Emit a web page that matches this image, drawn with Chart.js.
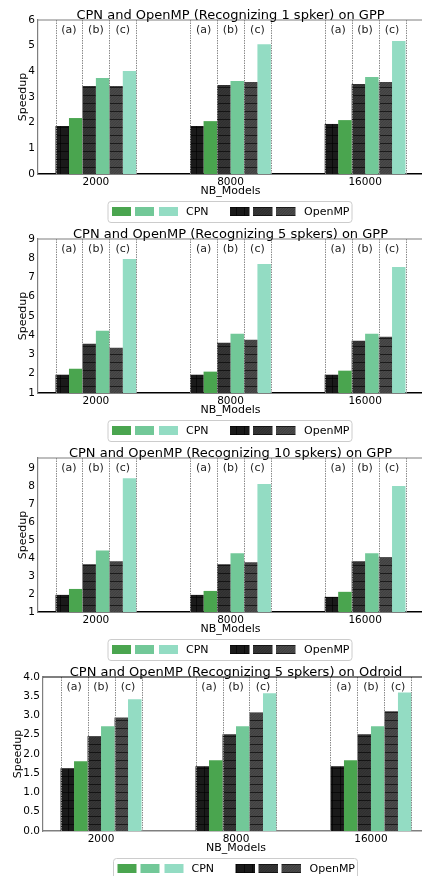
<!DOCTYPE html>
<html>
<head>
<meta charset="utf-8">
<script src="https://cdn.jsdelivr.net/npm/chart.js@4.4.0/dist/chart.umd.min.js"></script>
<style>
  html, body { margin: 0; padding: 0; background: #fff; overflow: hidden; width: 422px; height: 876px; }
  body { position: relative; }
  canvas.panel { position: absolute; left: 0; }
</style>
</head>
<body>
<canvas id="p1" class="panel" width="430" height="225" style="top:0px"></canvas>
<canvas id="p2" class="panel" width="430" height="225" style="top:219px"></canvas>
<canvas id="p3" class="panel" width="430" height="225" style="top:438px"></canvas>
<canvas id="p4" class="panel" width="430" height="225" style="top:657px"></canvas>
<script>
var nbModels = ["2000", "8000", "16000"];
var variants = ["(a)", "(b)", "(c)"];

// rows: (a), (b), (c) ; columns: 2000, 8000, 16000
var gpp1Cpn = [
  [2.18, 2.06, 2.10],
  [3.74, 3.62, 3.78],
  [4.01, 5.06, 5.18],
];
var gpp1OpenMP = [
  [1.87, 1.87, 1.95],
  [3.43, 3.47, 3.51],
  [3.43, 3.58, 3.58],
];

var gpp5Cpn = [
  [2.26, 2.11, 2.16],
  [4.23, 4.08, 4.08],
  [7.96, 7.70, 7.55],
];
var gpp5OpenMP = [
  [1.95, 1.95, 1.95],
  [3.56, 3.61, 3.71],
  [3.35, 3.76, 3.92],
];

var gpp10Cpn = [
  [2.28, 2.17, 2.12],
  [4.42, 4.26, 4.26],
  [8.43, 8.10, 7.99],
];
var gpp10OpenMP = [
  [1.95, 1.95, 1.84],
  [3.65, 3.65, 3.82],
  [3.82, 3.76, 4.04],
];

var odroid5Cpn = [
  [1.81, 1.84, 1.84],
  [2.72, 2.72, 2.72],
  [3.42, 3.58, 3.60],
];
var odroid5OpenMP = [
  [1.63, 1.68, 1.68],
  [2.46, 2.51, 2.51],
  [2.95, 3.08, 3.11],
];

var cpnColors = ["#4aa54f", "#72c898", "#93dcc3"];
var ompBase = ["#1a1a1a", "#363636", "#4a4a4a"];

function makeHatch(base, k) {
  var t = document.createElement("canvas");
  t.width = 8;
  t.height = 8;
  var c = t.getContext("2d");
  c.fillStyle = base;
  c.fillRect(0, 0, 8, 8);
  if (k > 0) {
    // fine diagonal texture
    c.strokeStyle = "rgba(0,0,0,0.22)";
    c.lineWidth = 0.7;
    for (var d = -8; d <= 8; d += 2.67) {
      c.beginPath();
      c.moveTo(d, 8);
      c.lineTo(d + 8, 0);
      c.stroke();
    }
  }
  c.fillStyle = "rgba(0,0,0,0.6)";
  c.fillRect(0, 7, 8, 1);
  if (k === 0) c.fillRect(4, 0, 1, 8);
  return document.createElement("canvas").getContext("2d").createPattern(t, "repeat");
}
var ompFills = ompBase.map(makeHatch);

var panels = [
  { id: "p1", title: "CPN and OpenMP (Recognizing 1 spker) on GPP", cpn: gpp1Cpn, omp: gpp1OpenMP,
    ymin: 0, ymax: 6, step: 1, yw: 38, padRight: 7, ytitlePad: 16.4, topSpine: "#7f7f7f", bottomSpine: "#000", dec: 0 },
  { id: "p2", title: "CPN and OpenMP (Recognizing 5 spkers) on GPP", cpn: gpp5Cpn, omp: gpp5OpenMP,
    ymin: 1, ymax: 9, step: 1, yw: 38, padRight: 7, ytitlePad: 16.4, topSpine: "#7f7f7f", bottomSpine: "#000", dec: 0 },
  { id: "p3", title: "CPN and OpenMP (Recognizing 10 spkers) on GPP", cpn: gpp10Cpn, omp: gpp10OpenMP,
    ymin: 1, ymax: 9.55, step: 1, yw: 38, padRight: 7, ytitlePad: 16.4, topSpine: "#7f7f7f", bottomSpine: "#000", dec: 0 },
  { id: "p4", title: "CPN and OpenMP (Recognizing 5 spkers) on Odroid", cpn: odroid5Cpn, omp: odroid5OpenMP,
    ymin: 0, ymax: 4, step: 0.5, yw: 43, padRight: 1, ytitlePad: 11.7, topSpine: "#000", bottomSpine: "#7f7f7f", dec: 1 },
];

var FONT = "'DejaVu Sans', sans-serif";

function makeDecor(p) {
  return {
    id: "decor",
    afterDatasetsDraw: function (chart) {
      var ctx = chart.ctx, a = chart.chartArea, xs = chart.scales.x;
      ctx.save();
      ctx.strokeStyle = "#8a8a8a";
      ctx.lineWidth = 1;
      ctx.setLineDash([1.5, 1]);
      nbModels.forEach(function (m, i) {
        [-0.3, -0.1, 0.1, 0.3].forEach(function (off) {
          var x = Math.round(xs.getPixelForValue(i + off)) + 0.5;
          ctx.beginPath();
          ctx.moveTo(x, a.top);
          ctx.lineTo(x, a.bottom);
          ctx.stroke();
        });
      });
      ctx.setLineDash([]);
      ctx.fillStyle = "#222";
      ctx.font = "11px " + FONT;
      ctx.textAlign = "center";
      ctx.textBaseline = "middle";
      nbModels.forEach(function (m, i) {
        variants.forEach(function (v, k) {
          ctx.fillText(v, xs.getPixelForValue(i - 0.2 + 0.2 * k), a.top + 10);
        });
      });
      ctx.restore();
    },
    afterDraw: function (chart) {
      var ctx = chart.ctx, a = chart.chartArea;
      var cx = (a.left + a.right) / 2;
      ctx.save();
      // top spine
      ctx.strokeStyle = p.topSpine;
      ctx.lineWidth = 1.2;
      ctx.beginPath();
      ctx.moveTo(a.left, a.top);
      ctx.lineTo(a.right, a.top);
      ctx.stroke();
      // title
      ctx.fillStyle = "#000";
      ctx.font = "13px " + FONT;
      ctx.textAlign = "center";
      ctx.textBaseline = "alphabetic";
      ctx.fillText(p.title, cx, a.top - 1);
      // legend
      var ly = 201;
      ctx.fillStyle = "rgba(255,255,255,0.9)";
      ctx.strokeStyle = "#cccccc";
      ctx.lineWidth = 1;
      ctx.beginPath();
      ctx.roundRect(cx - 122.5, ly + 0.5, 244, 21, 3);
      ctx.fill();
      ctx.stroke();
      [-118.5, -95.5, -71.5].forEach(function (off, k) {
        ctx.fillStyle = cpnColors[k];
        ctx.fillRect(cx + off, ly + 6, 19, 9);
      });
      [-0.5, 22.5, 45.5].forEach(function (off, k) {
        ctx.fillStyle = ompFills[k];
        ctx.fillRect(cx + off, ly + 6, 19.5, 9);
      });
      ctx.fillStyle = "#000";
      ctx.font = "11px " + FONT;
      ctx.textAlign = "left";
      ctx.textBaseline = "middle";
      ctx.fillText("CPN", cx - 44.5, ly + 11);
      ctx.fillText("OpenMP", cx + 73.5, ly + 11);
      ctx.restore();
    },
  };
}

panels.forEach(function (p) {
  var datasets = [];
  for (var k = 0; k < 3; k++) {
    datasets.push({
      label: "OpenMP " + variants[k],
      data: p.omp[k].map(function (v, i) { return { x: i, y: v }; }),
      backgroundColor: ompFills[k],
      borderWidth: 0,
    });
    datasets.push({
      label: "CPN " + variants[k],
      data: p.cpn[k].map(function (v, i) { return { x: i, y: v }; }),
      backgroundColor: cpnColors[k],
      borderWidth: 0,
    });
  }
  new Chart(document.getElementById(p.id).getContext("2d"), {
    type: "bar",
    data: { datasets: datasets },
    options: {
      responsive: false,
      animation: false,
      devicePixelRatio: 1,
      categoryPercentage: 0.6,
      barPercentage: 1,
      layout: { padding: { top: 20, left: 0, right: p.padRight, bottom: 27 } },
      plugins: { legend: { display: false }, tooltip: { enabled: false }, title: { display: false } },
      scales: {
        x: {
          type: "linear",
          min: -0.43,
          max: 2.43,
          offset: false,
          grid: { display: false, drawTicks: false },
          border: { display: true, color: p.bottomSpine, width: 1.5 },
          afterBuildTicks: function (s) {
            s.ticks = nbModels.map(function (m, i) { return { value: i }; });
          },
          afterFit: function (s) { s.height = 24; },
          ticks: {
            callback: function (v) { return nbModels[v]; },
            font: { family: FONT, size: 10.5 },
            color: "#000",
            padding: 2,
            maxRotation: 0,
            autoSkip: false,
          },
          title: { display: true, text: "NB_Models", font: { family: FONT, size: 11 }, color: "#000", padding: 0 },
        },
        y: {
          min: p.ymin,
          max: p.ymax,
          grid: { display: false, drawTicks: false },
          border: { display: true, color: "#7f7f7f", width: 1.2 },
          afterFit: function (s) { s.width = p.yw; },
          ticks: {
            stepSize: p.step,
            includeBounds: false,
            callback: function (v) { return v.toFixed(p.dec); },
            font: { family: FONT, size: 10.5 },
            color: "#000",
            padding: 3,
          },
          title: { display: true, text: "Speedup", font: { family: FONT, size: 11 }, color: "#000", padding: { top: p.ytitlePad, bottom: 0 } },
        },
      },
    },
    plugins: [makeDecor(p)],
  });
});
</script>
</body>
</html>
